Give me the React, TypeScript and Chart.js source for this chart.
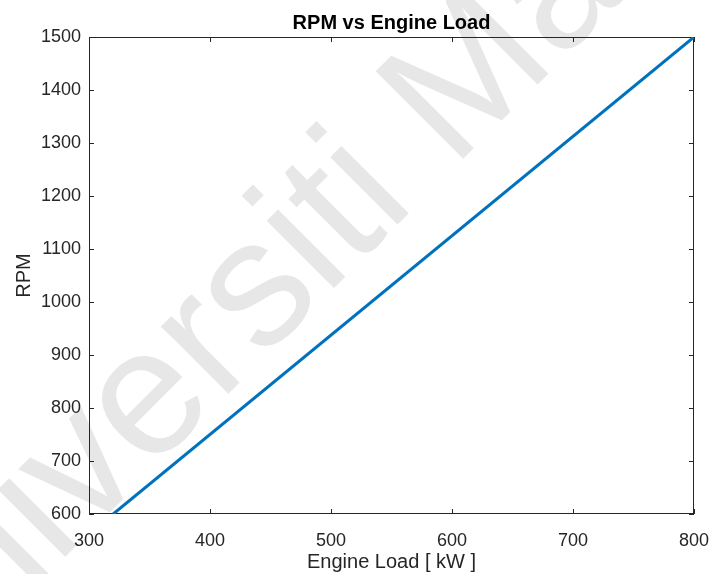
import React, { useEffect, useRef } from "react";
import { Chart, registerables } from "chart.js";

Chart.register(...registerables);

const engineLoad = [320, 800];
const rpm = [600, 1500];
const xTicks = [300, 400, 500, 600, 700, 800];
const yTicks = [600, 700, 800, 900, 1000, 1100, 1200, 1300, 1400, 1500];
const titleText = "RPM vs Engine Load";
const xTitle = "Engine Load [ kW ]";
const yTitle = "RPM";
const watermark = "Universiti Malaya";

const AXIS = "#262626";
const FONT = '"Liberation Sans", Arial, sans-serif';

const decor = {
  id: "matlabDecor",
  beforeDraw(chart: any) {
    const { ctx } = chart;
    ctx.save();
    ctx.fillStyle = "#ffffff";
    ctx.fillRect(0, 0, chart.width, chart.height);
    ctx.translate(-106, 728);
    ctx.rotate(-Math.PI / 4);
    ctx.font = `180px ${FONT}`;
    ctx.fillStyle = "#e7e7e7";
    ctx.textAlign = "left";
    ctx.textBaseline = "alphabetic";
    ctx.fillText(watermark, 0, 0);
    ctx.restore();
  },
  beforeDatasetsDraw(chart: any) {
    const { ctx, chartArea: a, scales } = chart;
    const xs = scales.x;
    const ys = scales.y;
    ctx.save();
    ctx.strokeStyle = AXIS;
    ctx.lineWidth = 1;
    ctx.strokeRect(a.left + 0.5, a.top + 0.5, a.right - a.left - 1, a.bottom - a.top - 1);
    const tl = 5;
    ctx.beginPath();
    xTicks.forEach((v) => {
      const px = Math.round(xs.getPixelForValue(v)) + 0.5;
      ctx.moveTo(px, a.bottom);
      ctx.lineTo(px, a.bottom - tl);
      ctx.moveTo(px, a.top);
      ctx.lineTo(px, a.top + tl);
    });
    yTicks.forEach((v) => {
      const py = Math.round(ys.getPixelForValue(v)) + 0.5;
      ctx.moveTo(a.left, py);
      ctx.lineTo(a.left + tl, py);
      ctx.moveTo(a.right, py);
      ctx.lineTo(a.right - tl, py);
    });
    ctx.stroke();
    ctx.restore();
  },
  afterDraw(chart: any) {
    const { ctx, chartArea: a } = chart;
    const cx = (a.left + a.right) / 2;
    const cy = (a.top + a.bottom) / 2;
    ctx.save();
    ctx.fillStyle = "#000000";
    ctx.textAlign = "center";
    ctx.textBaseline = "alphabetic";
    ctx.font = `bold 20px ${FONT}`;
    ctx.fillText(titleText, cx, 29);
    ctx.fillStyle = AXIS;
    ctx.font = `20px ${FONT}`;
    ctx.fillText(xTitle, cx, 568);
    ctx.translate(30, cy);
    ctx.rotate(-Math.PI / 2);
    ctx.fillText(yTitle, 0, 0);
    ctx.restore();
  },
};

export default function App() {
  const ref = useRef<HTMLCanvasElement | null>(null);
  useEffect(() => {
    if (!ref.current) return;
    const chart = new Chart(ref.current, {
      type: "line",
      data: {
        datasets: [
          {
            data: engineLoad.map((x, i) => ({ x, y: rpm[i] })),
            borderColor: "#0072BD",
            borderWidth: 3,
            pointRadius: 0,
            fill: false,
            tension: 0,
          },
        ],
      },
      options: {
        responsive: false,
        animation: false,
        layout: { padding: { left: 0, right: 17, top: 37, bottom: 0 } },
        plugins: { legend: { display: false }, title: { display: false }, tooltip: { enabled: false } },
        scales: {
          x: {
            type: "linear",
            min: 300,
            max: 800,
            afterBuildTicks: (s: any) => {
              s.ticks = xTicks.map((v) => ({ value: v }));
            },
            afterFit: (s: any) => {
              s.height = 60;
              s.paddingLeft = 0;
              s.paddingRight = 0;
            },
            ticks: {
              color: AXIS,
              font: { size: 18, family: FONT },
              padding: 16,
              maxRotation: 0,
              autoSkip: false,
              callback: (v: any) => String(v),
            },
            grid: { display: false, drawTicks: false },
            border: { display: false },
          },
          y: {
            type: "linear",
            min: 600,
            max: 1500,
            afterBuildTicks: (s: any) => {
              s.ticks = yTicks.map((v) => ({ value: v }));
            },
            afterFit: (s: any) => {
              s.width = 89;
              s.paddingTop = 0;
              s.paddingBottom = 0;
            },
            ticks: {
              color: AXIS,
              font: { size: 18, family: FONT },
              padding: 8,
              autoSkip: false,
              callback: (v: any) => String(v),
            },
            grid: { display: false, drawTicks: false },
            border: { display: false },
          },
        },
      },
      plugins: [decor],
    });
    return () => chart.destroy();
  }, []);
  return (
    <div style={{ position: "fixed", left: 0, top: 0, width: 711, height: 574, background: "#fff" }}>
      <canvas ref={ref} width={711} height={574} style={{ width: 711, height: 574 }} />
    </div>
  );
}
